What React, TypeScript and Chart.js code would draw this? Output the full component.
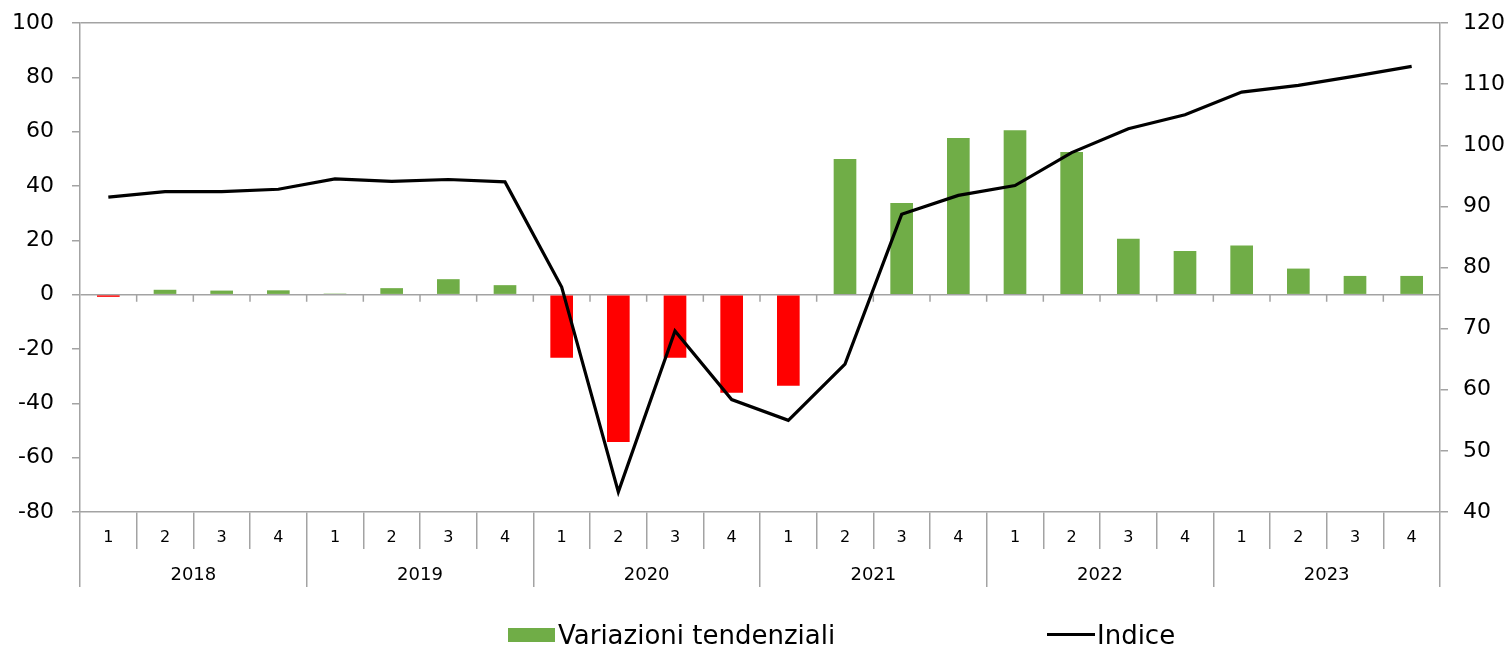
import React, { useEffect, useRef } from 'react';
import { Chart, registerables } from 'chart.js';

Chart.register(...registerables);

// ---- data ----
const years = ['2018', '2019', '2020', '2021', '2022', '2023'];
const quarterNames = ['1', '2', '3', '4'];
const variazioni = [
  -0.8, 1.8, 1.5, 1.6,
  0.4, 2.4, 5.7, 3.5,
  -23.2, -54.2, -23.2, -36.1,
  -33.5, 49.9, 33.7, 57.7,
  60.5, 52.5, 20.6, 16.1,
  18.1, 9.6, 6.9, 6.9,
];
const indice = [
  91.5, 92.4, 92.4, 92.8,
  94.5, 94.1, 94.4, 94.0,
  76.8, 43.3, 69.6, 58.4,
  55.0, 64.2, 88.7, 91.8,
  93.4, 98.8, 102.7, 105.0,
  108.7, 109.8, 111.3, 112.9,
];
const seriesNames = ['Variazioni tendenziali', 'Indice'];

// ---- styles ----
const AXIS = '#a3a3a3';
const FONT = "'DejaVu Sans', Verdana, sans-serif";
const GREEN = '#70AD47';
const RED = '#FF0000';

const zeroTicks = {
  id: 'zeroTicks',
  beforeDatasetsDraw(chart: any) {
    const x = chart.scales.x;
    const y = chart.scales.y;
    const y0 = y.getPixelForValue(0);
    const n = x.getLabels().length;
    const w = (x.right - x.left) / n;
    const ctx = chart.ctx;
    ctx.save();
    ctx.strokeStyle = AXIS;
    ctx.lineWidth = 1.5;
    ctx.beginPath();
    for (let i = 1; i < n; i++) {
      const px = x.left + i * w;
      ctx.moveTo(px, y0);
      ctx.lineTo(px, y0 + 7);
    }
    ctx.stroke();
    ctx.restore();
  },
};

export default function App() {
  const ref = useRef<HTMLCanvasElement>(null);

  useEffect(() => {
    const labels = years.flatMap(() => quarterNames);
    const chart = new Chart(ref.current as HTMLCanvasElement, {
      data: {
        labels,
        datasets: [
          {
            type: 'line',
            label: seriesNames[1],
            data: indice,
            yAxisID: 'y1',
            xAxisID: 'x',
            borderColor: '#000000',
            backgroundColor: '#000000',
            borderWidth: 3.2,
            pointRadius: 0,
            tension: 0,
            order: 1,
          } as any,
          {
            type: 'bar',
            label: seriesNames[0],
            data: variazioni,
            yAxisID: 'y',
            xAxisID: 'x',
            backgroundColor: variazioni.map((v) => (v < 0 ? RED : GREEN)),
            barPercentage: 0.4,
            categoryPercentage: 1,
            order: 2,
          } as any,
        ],
      },
      options: {
        animation: false,
        responsive: true,
        maintainAspectRatio: false,
        layout: { padding: { top: 23, left: 0, right: 0, bottom: 60 } },
        plugins: { legend: { display: false }, tooltip: { enabled: false } },
        scales: {
          x: {
            type: 'category',
            position: 'bottom',
            weight: 1,
            offset: true,
            grid: {
              offset: true,
              drawOnChartArea: false,
              drawTicks: true,
              tickLength: 37,
              color: AXIS,
              lineWidth: 1.5,
            },
            border: { display: true, color: AXIS, width: 1.5 },
            ticks: {
              autoSkip: false,
              maxRotation: 0,
              padding: -21,
              color: '#000',
              font: { family: FONT, size: 16 },
            },
            afterFit: (s: any) => {
              s.height = 37;
              s.paddingLeft = 0;
              s.paddingRight = 0;
            },
          },
          x2: {
            type: 'category',
            labels: years,
            position: 'bottom',
            weight: 2,
            offset: true,
            grid: {
              offset: true,
              drawOnChartArea: false,
              drawTicks: true,
              tickLength: 38,
              color: AXIS,
              lineWidth: 1.5,
            },
            border: { display: false },
            ticks: {
              autoSkip: false,
              maxRotation: 0,
              padding: -22,
              color: '#000',
              font: { family: FONT, size: 18 },
            },
            afterFit: (s: any) => {
              s.height = 38;
              s.paddingLeft = 0;
              s.paddingRight = 0;
            },
          },
          y: {
            position: 'left',
            min: -80,
            max: 100,
            ticks: {
              stepSize: 20,
              padding: 18,
              color: '#000',
              font: { family: FONT, size: 22 },
            },
            grid: {
              color: (c: any) =>
                c.tick && (c.tick.value === 0 || c.tick.value === 100) ? AXIS : 'rgba(0,0,0,0)',
              tickColor: AXIS,
              tickLength: 8,
              lineWidth: 1.5,
            },
            border: { display: true, color: AXIS, width: 1.5 },
            afterFit: (s: any) => {
              s.width = 80;
              s.paddingTop = 0;
              s.paddingBottom = 0;
            },
          },
          y1: {
            position: 'right',
            min: 40,
            max: 120,
            ticks: {
              stepSize: 10,
              padding: 15,
              color: '#000',
              font: { family: FONT, size: 22 },
            },
            grid: {
              drawOnChartArea: false,
              color: AXIS,
              tickColor: AXIS,
              tickLength: 8,
              lineWidth: 1.5,
            },
            border: { display: true, color: AXIS, width: 1.5 },
            afterFit: (s: any) => {
              s.width = 69;
              s.paddingTop = 0;
              s.paddingBottom = 0;
            },
          },
        },
      } as any,
      plugins: [zeroTicks],
    });
    return () => chart.destroy();
  }, []);

  const legendText: React.CSSProperties = {
    position: 'absolute',
    fontFamily: FONT,
    fontSize: 26,
    lineHeight: '30px',
    color: '#000',
    top: 620,
    whiteSpace: 'nowrap',
  };

  return (
    <div style={{ position: 'fixed', left: 0, top: 0, width: 1509, height: 647, background: '#fff' }}>
      <canvas ref={ref} />
      <div style={{ position: 'absolute', left: 508, top: 628, width: 47, height: 14, background: GREEN }} />
      <div style={{ ...legendText, left: 558 }}>{seriesNames[0]}</div>
      <div style={{ position: 'absolute', left: 1047, top: 633, width: 48, height: 3, background: '#000' }} />
      <div style={{ ...legendText, left: 1097 }}>{seriesNames[1]}</div>
    </div>
  );
}
